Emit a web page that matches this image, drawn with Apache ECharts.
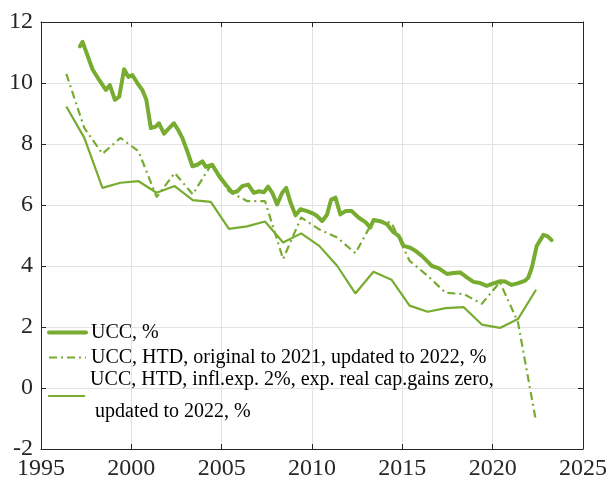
<!DOCTYPE html>
<html>
<head>
<meta charset="utf-8">
<script src="https://cdn.jsdelivr.net/npm/echarts@6/dist/echarts.min.js"></script>
<style>
html,body{margin:0;padding:0;background:#fff;}
#chart{width:610px;height:482px;}
</style>
</head>
<body>
<div id="chart"></div>
<script>
// ---- data ----
const seriesNames = [
  'UCC, %',
  'UCC, HTD, original to 2021, updated to 2022, %',
  'UCC, HTD, infl.exp. 2%, exp. real cap.gains zero,\n updated to 2022, %'
];

const uccX = [1997.15,1997.3,1997.85,1998.22,1998.59,1998.81,1999.09,1999.33,1999.6,1999.84,
  2000.06,2000.34,2000.61,2000.83,2001.08,2001.35,2001.53,2001.81,2002.09,2002.36,2002.6,2002.82,
  2003.1,2003.38,2003.65,2003.93,2004.12,2004.48,2004.85,2005.22,2005.59,2005.86,2006.14,2006.47,
  2006.78,2007.06,2007.34,2007.57,2007.8,2008.07,2008.35,2008.57,2008.81,2009.09,2009.36,2009.73,
  2010.1,2010.28,2010.56,2010.83,2011.06,2011.3,2011.57,2011.85,2012.2,2012.57,2012.96,2013.23,
  2013.41,2013.78,2014.15,2014.52,2014.8,2015.07,2015.44,2015.72,2016.08,2016.36,2016.64,2017.0,
  2017.47,2017.84,2018.2,2018.57,2018.94,2019.31,2019.67,2020.04,2020.41,2020.69,2021.05,2021.42,
  2021.8,2021.98,2022.17,2022.44,2022.81,2023.05,2023.26];
const uccY = [11.2,11.35,10.45,10.1,9.77,9.93,9.45,9.55,10.45,10.2,
  10.26,9.99,9.77,9.45,8.52,8.57,8.68,8.34,8.52,8.68,8.45,8.2,
  7.76,7.27,7.32,7.43,7.25,7.32,6.96,6.67,6.40,6.45,6.62,6.67,
  6.40,6.45,6.42,6.6,6.4,6.02,6.40,6.56,6.08,5.66,5.86,5.80,
  5.71,5.64,5.47,5.68,6.18,6.24,5.69,5.80,5.80,5.59,5.44,5.26,
  5.51,5.47,5.37,5.1,4.99,4.66,4.6,4.5,4.33,4.17,4.0,3.93,
  3.74,3.77,3.79,3.63,3.48,3.44,3.35,3.43,3.5,3.49,3.38,3.44,
  3.52,3.63,3.95,4.66,5.02,4.97,4.85];

const htdX = [1996.4,1997.4,1998.4,1999.4,2000.4,2001.4,2002.4,2003.4,2004.4,2005.4,
  2006.4,2007.4,2008.4,2009.4,2010.4,2011.4,2012.4,2013.4,2014.4,2015.4,
  2016.4,2017.4,2018.4,2019.4,2020.4,2021.4,2022.4];
const htdOrigY = [10.3,8.52,7.68,8.2,7.76,6.26,7.05,6.35,7.3,6.45,
  6.13,6.13,4.23,5.59,5.2,4.93,4.42,5.5,5.42,4.17,
  3.68,3.12,3.08,2.76,3.47,2.16,-1.1];
const htdInflY = [9.23,8.2,6.56,6.73,6.78,6.4,6.62,6.16,6.1,5.22,
  5.3,5.46,4.77,5.07,4.66,4.0,3.1,3.81,3.55,2.7,
  2.5,2.62,2.65,2.08,1.97,2.26,3.22];

const xTicks = {min: 1995, max: 2025, interval: 5};
const yTicks = {min: -2, max: 12, interval: 2};

// ---- chart ----
const FONT = "'Liberation Serif','Times New Roman',serif";
const GREEN = '#77AC30';
const AX = '#262626';
const zip = (xs, ys) => xs.map((x, i) => [x, ys[i]]);
const DASHDOT = [8, 4, 2, 4];

const axisCommon = {
  type: 'value',
  axisLine: {show: true, onZero: false, lineStyle: {color: AX, width: 1}},
  axisTick: {show: true, inside: true, length: 5, lineStyle: {color: AX}},
  axisLabel: {fontFamily: FONT, fontSize: 24, color: AX, margin: 8, formatter: v => String(v)},
  splitLine: {show: false}
};

const legendCommon = {
  orient: 'vertical', left: 47, padding: 0,
  itemWidth: 37, itemHeight: 14, itemGap: 0,
  itemStyle: {opacity: 0, borderWidth: 0}
};

const chart = echarts.init(document.getElementById('chart'), null, {renderer: 'canvas'});
chart.setOption({
  animation: false,
  backgroundColor: '#fff',
  grid: {left: 41, right: 26, top: 22, bottom: 33, containLabel: false},
  xAxis: [
    Object.assign({}, axisCommon, {position: 'bottom', min: xTicks.min, max: xTicks.max, interval: xTicks.interval,
      splitLine: {show: true, lineStyle: {color: '#e3e3e3', width: 1}}}),
    Object.assign({}, axisCommon, {position: 'top', min: xTicks.min, max: xTicks.max, interval: xTicks.interval,
      axisLabel: {show: false}})
  ],
  yAxis: [
    Object.assign({}, axisCommon, {position: 'left', min: yTicks.min, max: yTicks.max, interval: yTicks.interval,
      splitLine: {show: true, lineStyle: {color: '#e3e3e3', width: 1}}}),
    Object.assign({}, axisCommon, {position: 'right', min: yTicks.min, max: yTicks.max, interval: yTicks.interval,
      axisLabel: {show: false}})
  ],
  legend: [
    Object.assign({}, legendCommon, {
      data: [
        {name: seriesNames[0], lineStyle: {width: 4, color: GREEN}},
        {name: seriesNames[1], lineStyle: {width: 2.2, color: GREEN, type: DASHDOT}}
      ],
      top: 320,
      textStyle: {fontFamily: FONT, fontSize: 20, color: '#000', lineHeight: 25}
    }),
    Object.assign({}, legendCommon, {
      data: [{name: seriesNames[2], lineStyle: {width: 2.2, color: GREEN}}],
      top: 364,
      textStyle: {fontFamily: FONT, fontSize: 20, color: '#000', lineHeight: 32}
    })
  ],
  series: [
    {
      name: seriesNames[0], type: 'line', data: zip(uccX, uccY),
      symbol: 'none', showSymbol: false, clip: true, z: 3,
      lineStyle: {color: GREEN, width: 4, join: 'round', cap: 'round'},
      itemStyle: {color: GREEN}
    },
    {
      name: seriesNames[1], type: 'line', data: zip(htdX, htdOrigY),
      symbol: 'none', showSymbol: false, clip: true, z: 2,
      lineStyle: {color: GREEN, width: 2.2, type: DASHDOT},
      itemStyle: {color: GREEN}
    },
    {
      name: seriesNames[2], type: 'line', data: zip(htdX, htdInflY),
      symbol: 'none', showSymbol: false, clip: true, z: 2,
      lineStyle: {color: GREEN, width: 2.2},
      itemStyle: {color: GREEN}
    }
  ]
});
</script>
</body>
</html>
